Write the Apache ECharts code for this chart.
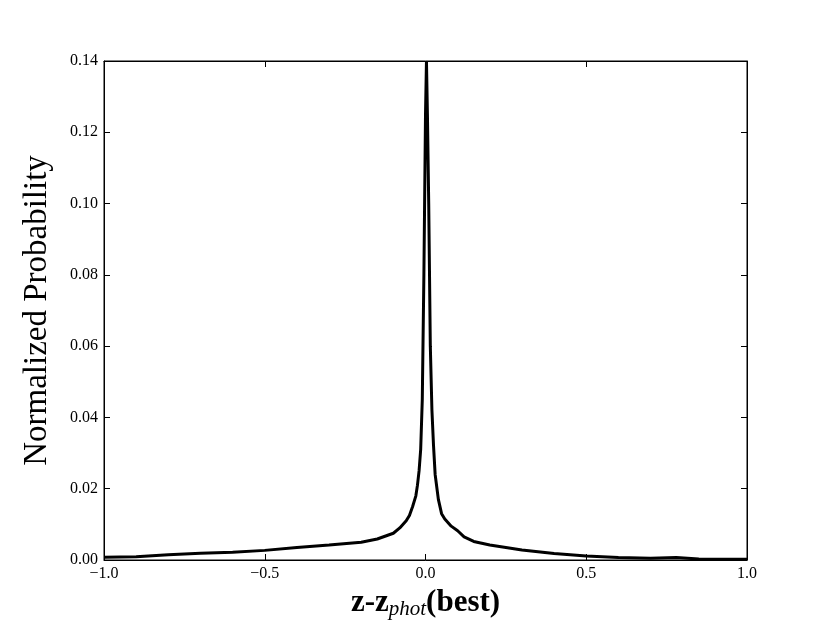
<!DOCTYPE html>
<html>
<head>
<meta charset="utf-8">
<script src="https://cdn.jsdelivr.net/npm/echarts@6/dist/echarts.min.js"></script>
<style>
  html, body { margin: 0; padding: 0; background: #fff; }
  #chart { width: 830px; height: 623px; }
</style>
</head>
<body>
<div id="chart"></div>
<script>
// z - z_phot(best) and its normalized probability
var zDiff = [-1.0, -0.9, -0.8, -0.7, -0.6, -0.5, -0.4, -0.3, -0.2, -0.15, -0.1, -0.08, -0.06, -0.05,
  -0.04, -0.03, -0.025, -0.02, -0.015, -0.01, -0.005, 0.0, 0.003, 0.006, 0.01, 0.015, 0.02, 0.025,
  0.03, 0.04, 0.05, 0.06, 0.08, 0.1, 0.12, 0.15, 0.2, 0.3, 0.4, 0.5, 0.6, 0.7, 0.78, 0.85, 1.0];
var prob = [0.0008, 0.0009, 0.0015, 0.0019, 0.0022, 0.0027, 0.0035, 0.0042, 0.005, 0.0059, 0.0075,
  0.009, 0.011, 0.0125, 0.015, 0.018, 0.021, 0.025, 0.031, 0.045, 0.08, 0.125, 0.14, 0.125, 0.1,
  0.06, 0.042, 0.032, 0.024, 0.017, 0.013, 0.0115, 0.0095, 0.0082, 0.0065, 0.0052, 0.0042, 0.0028,
  0.0018, 0.0011, 0.0007, 0.0005, 0.0007, 0.0003, 0.0002];
var xTicks = [-1.0, -0.5, 0.0, 0.5, 1.0];
var yTicks = [0.0, 0.02, 0.04, 0.06, 0.08, 0.10, 0.12, 0.14];

var font = "'Liberation Serif', 'DejaVu Serif', serif";
var chart = echarts.init(document.getElementById("chart"));

function fmtX(v) {
  var s = Math.abs(v).toFixed(1);
  return v < 0 ? "\u2212" + s : s;
}

var tickInside = { show: true, inside: true, length: 6, lineStyle: { color: "#000", width: 1 } };
var frameLine = { show: true, onZero: false, lineStyle: { color: "#000", width: 1 } };

chart.setOption({
  animation: false,
  grid: {
    left: 104, right: 83, top: 61, bottom: 63,
    outerBoundsMode: "none",
    containLabel: false,
    show: true, borderColor: "#000", borderWidth: 1
  },
  xAxis: [
    {
      type: "value", min: -1, max: 1, interval: 0.5,
      axisLine: frameLine,
      axisTick: tickInside,
      splitLine: { show: false },
      axisLabel: {
        color: "#000", fontFamily: font, fontSize: 16, margin: 6,
        formatter: fmtX
      },
      name: "{b|z-z}{s|phot}{b|(best)}",
      nameLocation: "middle",
      nameGap: 22,
      nameTextStyle: {
        rich: {
          b: { fontFamily: font, fontSize: 31, fontWeight: "bold", color: "#000", lineHeight: 34 },
          s: { fontFamily: font, fontSize: 21, fontStyle: "italic", color: "#000", padding: [12, 0, 0, 0], lineHeight: 34 }
        }
      }
    },
    {
      type: "value", min: -1, max: 1, interval: 0.5, position: "top",
      axisLine: frameLine,
      axisTick: tickInside,
      axisLabel: { show: false },
      splitLine: { show: false }
    }
  ],
  yAxis: [
    {
      type: "value", min: 0, max: 0.14, interval: 0.02,
      axisLine: frameLine,
      axisTick: tickInside,
      splitLine: { show: false },
      axisLabel: {
        color: "#000", fontFamily: font, fontSize: 16, margin: 6,
        formatter: function (v) { return v.toFixed(2); }
      },
      name: "Normalized Probability",
      nameLocation: "middle",
      nameGap: 50,
      nameTextStyle: { fontFamily: font, fontSize: 33, color: "#000" }
    },
    {
      type: "value", min: 0, max: 0.14, interval: 0.02, position: "right",
      axisLine: frameLine,
      axisTick: tickInside,
      axisLabel: { show: false },
      splitLine: { show: false }
    }
  ],
  series: [
    {
      type: "line",
      data: zDiff.map(function (z, i) { return [z, prob[i]]; }),
      showSymbol: false,
      symbol: "none",
      lineStyle: { color: "#000", width: 3 },
      clip: true
    }
  ]
});
</script>
</body>
</html>
